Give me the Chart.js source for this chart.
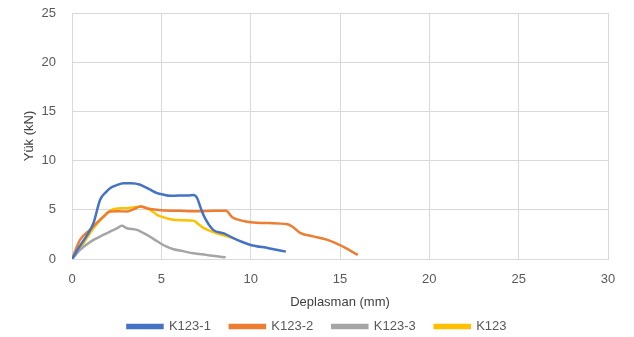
<!DOCTYPE html>
<html>
<head>
<meta charset="utf-8">
<script src="https://cdn.jsdelivr.net/npm/chart.js@4"></script>
<style>
  html, body { margin: 0; padding: 0; background: #fff; }
  #wrap { width: 634px; height: 337px; }
</style>
</head>
<body>
<div id="wrap"><canvas id="chart"></canvas></div>
<script>
const seriesNames = ['K123-1', 'K123-2', 'K123-3', 'K123'];
const seriesColors = ['#4472C4', '#ED7D31', '#A5A5A5', '#FFC000'];

// deplasman (mm) / yük (kN)
const k1X = [0, 0.4, 0.8, 1.2, 1.57, 1.9, 2.13, 2.5, 2.88, 3.3, 3.82, 4.1, 4.38, 4.76, 5.1, 5.5, 6.0, 6.5, 6.8, 7.0, 7.2, 7.4, 7.9, 8.5, 9.06, 9.5, 10.0, 11.0, 11.97];
const k1Y = [0, 1.2, 2.3, 3.64, 6.0, 6.8, 7.2, 7.5, 7.7, 7.7, 7.55, 7.3, 7.04, 6.7, 6.55, 6.43, 6.45, 6.45, 6.5, 6.2, 5.2, 4.3, 2.96, 2.6, 2.1, 1.75, 1.43, 1.1, 0.75];

const k2X = [0, 0.45, 1.0, 1.4, 1.76, 2.13, 2.6, 3.07, 3.5, 3.82, 4.3, 5.0, 6.0, 7.0, 8.0, 8.5, 8.6, 8.97, 9.5, 10.0, 11.0, 12.06, 12.4, 12.8, 13.5, 14.3, 15.0, 16.0];
const k2Y = [0, 1.94, 2.96, 3.7, 4.3, 4.83, 4.85, 4.83, 5.1, 5.34, 5.1, 4.95, 4.9, 4.85, 4.9, 4.9, 4.93, 4.25, 3.9, 3.74, 3.65, 3.54, 3.2, 2.62, 2.3, 1.94, 1.4, 0.41];

const k3X = [0, 0.5, 1.2, 1.7, 2.13, 2.5, 2.79, 3.07, 3.63, 4.19, 4.6, 4.94, 5.3, 5.69, 6.2, 6.8, 7.5, 8.0, 8.6];
const k3Y = [0, 1.0, 1.94, 2.4, 2.79, 3.1, 3.37, 3.13, 2.96, 2.45, 2.0, 1.6, 1.25, 0.99, 0.8, 0.58, 0.42, 0.3, 0.17];

const k4X = [0, 0.64, 1.2, 1.6, 1.95, 2.32, 2.7, 3.07, 3.5, 3.82, 4.38, 4.76, 5.1, 5.5, 6.2, 6.8, 7.1, 7.38, 8.1, 8.6, 9.06];
const k4Y = [0, 1.6, 3.13, 4.0, 4.66, 5.07, 5.15, 5.17, 5.25, 5.34, 5.0, 4.49, 4.25, 4.05, 3.95, 3.9, 3.5, 3.13, 2.62, 2.35, 2.1];

const xTicks = [0, 5, 10, 15, 20, 25, 30];
const yTicks = [0, 5, 10, 15, 20, 25];

function toPoints(xs, ys) {
    return xs.map((x, i) => ({ x: x, y: ys[i] }));
}

const allX = [k1X, k2X, k3X, k4X];
const allY = [k1Y, k2Y, k3Y, k4Y];

const datasets = seriesNames.map((name, i) => ({
    label: name,
    data: toPoints(allX[i], allY[i]),
    borderColor: seriesColors[i],
    backgroundColor: seriesColors[i],
    borderWidth: 2.5,
    pointRadius: 0,
    cubicInterpolationMode: 'monotone',
    showLine: true,
    fill: false
}));

const fontFamily = '"Liberation Sans", Arial, sans-serif';

new Chart(document.getElementById('chart'), {
    type: 'scatter',
    data: { datasets: datasets },
    options: {
        responsive: true,
        maintainAspectRatio: false,
        animation: false,
        layout: { padding: { top: 13, right: 0, left: 0, bottom: 0 } },
        plugins: {
            legend: {
                position: 'bottom',
                maxHeight: 36,
                labels: {
                    boxWidth: 35,
                    boxHeight: 3,
                    color: '#595959',
                    font: { family: fontFamily, size: 13 },
                    padding: 19
                }
            },
            tooltip: { enabled: false }
        },
        scales: {
            x: {
                type: 'linear',
                min: 0,
                max: 30,
                afterBuildTicks: axis => { axis.ticks = xTicks.map(v => ({ value: v })); },
                afterFit: scale => { scale.height = 42; },
                grid: { color: '#D9D9D9', drawTicks: false },
                border: { color: '#D9D9D9' },
                ticks: { color: '#595959', font: { family: fontFamily, size: 13 }, padding: 13 },
                title: {
                    display: true,
                    text: 'Deplasman (mm)',
                    color: '#404040',
                    font: { family: fontFamily, size: 13 },
                    padding: { top: 0, bottom: -9 }
                }
            },
            y: {
                type: 'linear',
                min: 0,
                max: 25,
                afterBuildTicks: axis => { axis.ticks = yTicks.map(v => ({ value: v })); },
                afterFit: scale => { scale.width = 72; },
                grid: { color: '#D9D9D9', drawTicks: true, tickLength: 16, tickColor: 'rgba(0,0,0,0)' },
                border: { color: '#D9D9D9' },
                ticks: { color: '#595959', font: { family: fontFamily, size: 13 }, padding: 0 },
                title: {
                    display: true,
                    text: 'Yük (kN)',
                    color: '#404040',
                    font: { family: fontFamily, size: 13 },
                    padding: { top: 22, bottom: 0 }
                }
            },
            // empty right margin so the plot ends where the reference does
            yRight: {
                position: 'right',
                display: true,
                min: 0,
                max: 25,
                afterFit: scale => { scale.width = 26; },
                grid: { display: false, drawTicks: false },
                border: { display: false },
                ticks: { display: false }
            }
        }
    }
});
</script>
</body>
</html>
